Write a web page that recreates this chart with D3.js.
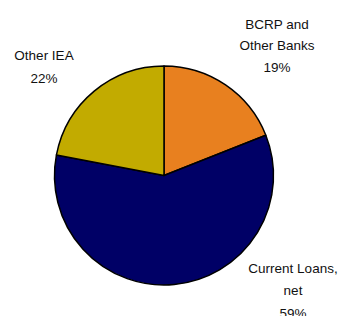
<!DOCTYPE html>
<html><head><meta charset="utf-8">
<script src="https://cdn.jsdelivr.net/npm/d3@7"></script>
<style>body{margin:0;background:#fff}svg{display:block}</style>
</head><body>
<svg id="c" width="340" height="316"></svg>
<script>
const categories = ["BCRP and Other Banks", "Current Loans, net", "Other IEA"];
const values = [19, 59, 22];
const colors = ["#E8801F", "#000066", "#C2AB00"];
const labelLines = [["BCRP and", "Other Banks", "19%"], ["Current Loans,", "net", "59%"], ["Other IEA", "22%"]];
const labelPos = [[277, 24, 21.5], [293, 268, 22.5], [44, 55, 23]];

const svg = d3.select("#c");
const cx = 164, cy = 175.5, r = 109.5;
const pie = d3.pie().sort(null).value(d => d)(values);
const arc = d3.arc().innerRadius(0).outerRadius(r);
const g = svg.append("g").attr("transform", `translate(${cx},${cy})`);
g.selectAll("path").data(pie).join("path")
  .attr("d", arc).attr("fill", (d, i) => colors[i])
  .attr("stroke", "#000").attr("stroke-width", 1.5).attr("stroke-linejoin", "round");

labelLines.forEach((lines, i) => {
  const [x, y, lh] = labelPos[i];
  const t = svg.append("text").attr("font-family", "Liberation Sans, Arial, sans-serif")
    .attr("font-size", 13.5).attr("fill", "#111").attr("text-anchor", "middle");
  lines.forEach((s, j) => t.append("tspan").attr("x", x).attr("y", y + j * lh)
    .attr("dominant-baseline", "central").text(s));
});
</script>
</body></html>
